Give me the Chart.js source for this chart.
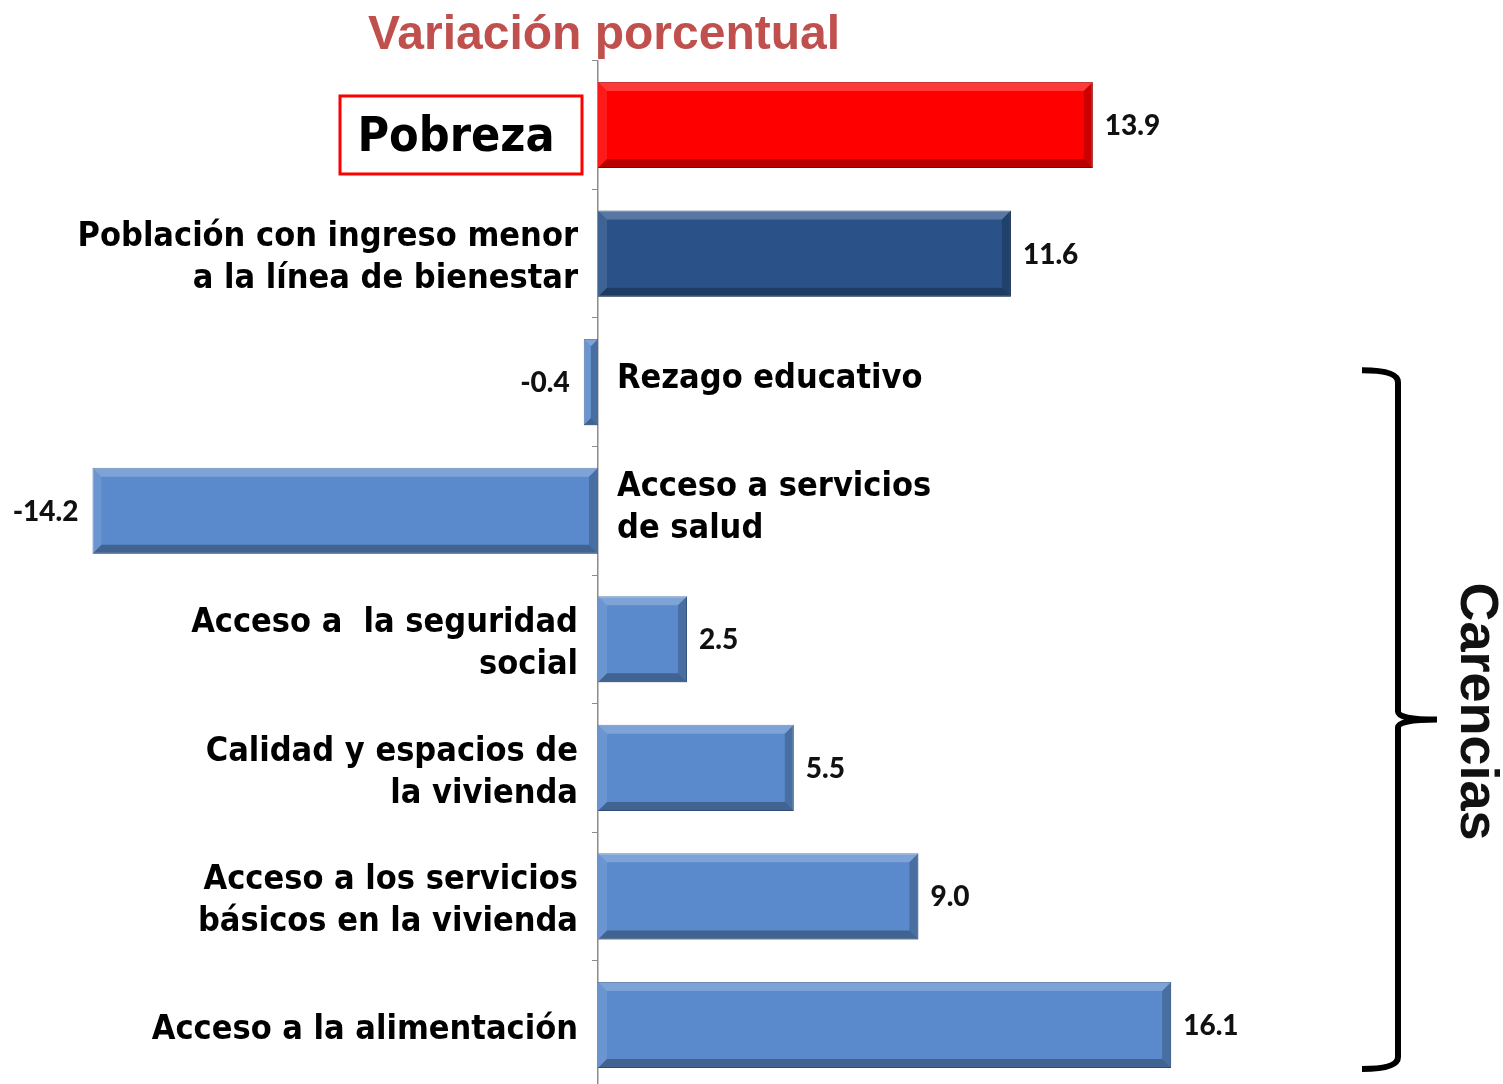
<!DOCTYPE html>
<html lang="es">
<head>
<meta charset="utf-8">
<title>Variación porcentual</title>
<script src="https://cdn.jsdelivr.net/npm/chart.js@4.4.1/dist/chart.umd.min.js"></script>
<style>
  html, body { margin: 0; padding: 0; background: #fff; overflow: hidden; }
  #wrap { position: relative; width: 1503px; height: 1092px; }
</style>
</head>
<body>
<div id="wrap"><canvas id="chart"></canvas></div>
<script>
const categories = [
  "Pobreza",
  "Población con ingreso menor a la línea de bienestar",
  "Rezago educativo",
  "Acceso a servicios de salud",
  "Acceso a  la seguridad social",
  "Calidad y espacios de la vivienda",
  "Acceso a los servicios básicos en la vivienda",
  "Acceso a la alimentación"
];
const labelLines = [
  ["Pobreza"],
  ["Población con ingreso menor", "a la línea de bienestar"],
  ["Rezago educativo"],
  ["Acceso a servicios", "de salud"],
  ["Acceso a  la seguridad", "social"],
  ["Calidad y espacios de", "la vivienda"],
  ["Acceso a los servicios", "básicos en la vivienda"],
  ["Acceso a la alimentación"]
];
const values = [13.9, 11.6, -0.4, -14.2, 2.5, 5.5, 9.0, 16.1];
const barColors = ["#ff0000", "#2a5289", "#5a8acb", "#5a8acb", "#5a8acb", "#5a8acb", "#5a8acb", "#5a8acb"];
const borderColors = ["#b80000", "#1d3b63", "#41699e", "#41699e", "#41699e", "#41699e", "#41699e", "#41699e"];
const title = "Variación porcentual";
const groupLabel = "Carencias";

const labelFont = 'bold 34px "DejaVu Sans Condensed", "DejaVu Sans", sans-serif';
const valueFont = '900 28px Lato, "Open Sans", sans-serif';

function face(ctx, pts, color) {
  ctx.beginPath();
  ctx.moveTo(pts[0][0], pts[0][1]);
  for (let i = 1; i < pts.length; i++) ctx.lineTo(pts[i][0], pts[i][1]);
  ctx.closePath();
  ctx.fillStyle = color;
  ctx.fill();
}

// light top / dark bottom edges, like the office "bevel" bars
const bevel = {
  id: "bevel",
  afterDatasetsDraw(chart) {
    const ctx = chart.ctx;
    ctx.save();
    chart.getDatasetMeta(0).data.forEach(bar => {
      const p = bar.getProps(["x", "y", "base", "height"], true);
      const l = Math.min(p.x, p.base), r = Math.max(p.x, p.base);
      const t = p.y - p.height / 2, b = p.y + p.height / 2;
      const s = Math.min(9, (r - l) / 2, (b - t) / 2);
      face(ctx, [[l, t], [r, t], [r - s, t + s], [l + s, t + s]], "rgba(255,255,255,0.22)");
      face(ctx, [[l, t], [l + s, t + s], [l + s, b - s], [l, b]], "rgba(255,255,255,0.10)");
      face(ctx, [[l, b], [r, b], [r - s, b - s], [l + s, b - s]], "rgba(0,0,0,0.28)");
      face(ctx, [[r, t], [r, b], [r - s, b - s], [r - s, t + s]], "rgba(0,0,0,0.20)");
    });
    ctx.restore();
  }
};

const annotations = {
  id: "annotations",
  afterDraw(chart) {
    const ctx = chart.ctx;
    const xs = chart.scales.x, ys = chart.scales.y;
    const zero = xs.getPixelForValue(0);
    ctx.save();

    // title
    ctx.font = 'bold 48px "Liberation Sans", Arial, sans-serif';
    ctx.fillStyle = "#c0504d";
    ctx.textAlign = "center";
    ctx.textBaseline = "middle";
    ctx.fillText(title, zero + 6, chart.chartArea.top - 25);

    // category labels
    values.forEach((v, i) => {
      const cy = ys.getPixelForValue(i);
      const lines = labelLines[i];
      ctx.fillStyle = "#000";
      if (i === 0) {
        ctx.font = 'bold 48px "DejaVu Sans Condensed", "DejaVu Sans", sans-serif';
        ctx.textAlign = "center";
        ctx.fillText(lines[0], 456, cy + 14);
        ctx.strokeStyle = "#ff0000";
        ctx.lineWidth = 3;
        ctx.strokeRect(340, cy - 29, 242, 78);
        return;
      }
      ctx.font = labelFont;
      let x, off;
      if (v >= 0) { ctx.textAlign = "right"; x = zero - 20; off = 5; }
      else { ctx.textAlign = "left"; x = zero + 19; off = -3; }
      const lh = 42;
      const y0 = cy + off - (lines.length - 1) * lh / 2;
      lines.forEach((ln, k) => ctx.fillText(ln, x, y0 + k * lh));
    });

    // value labels
    ctx.font = valueFont;
    ctx.fillStyle = "#111";
    values.forEach((v, i) => {
      const cy = ys.getPixelForValue(i);
      const px = xs.getPixelForValue(v);
      if (v >= 0) { ctx.textAlign = "left"; ctx.fillText(v.toFixed(1), px + 12, cy + 1); }
      else { ctx.textAlign = "right"; ctx.fillText(v.toFixed(1), px - 14, cy + 1); }
    });

    // brace for the carencias group
    const top = ys.getPixelForValue(2) - 12;
    const bot = ys.getPixelForValue(values.length - 1) + 44;
    const mid = (top + bot) / 2;
    const bx = 1398;
    ctx.strokeStyle = "#000";
    ctx.lineWidth = 6;
    ctx.beginPath();
    ctx.moveTo(1362, top);
    ctx.quadraticCurveTo(bx, top, bx, top + 12);
    ctx.lineTo(bx, mid - 8);
    ctx.quadraticCurveTo(bx, mid, 1437, mid);
    ctx.moveTo(1437, mid);
    ctx.quadraticCurveTo(bx, mid, bx, mid + 8);
    ctx.lineTo(bx, bot - 12);
    ctx.quadraticCurveTo(bx, bot, 1362, bot);
    ctx.stroke();

    ctx.translate(1476, mid - 8);
    ctx.rotate(Math.PI / 2);
    ctx.font = 'bold 54px "Liberation Sans", Arial, sans-serif';
    ctx.textAlign = "center";
    ctx.textBaseline = "middle";
    ctx.fillText(groupLabel, 0, 0);
    ctx.restore();
  }
};

new Chart(document.getElementById("chart"), {
  type: "bar",
  data: {
    labels: categories,
    datasets: [{
      data: values,
      backgroundColor: barColors,
      borderColor: borderColors,
      borderWidth: 1,
      barPercentage: 0.67,
      categoryPercentage: 1
    }]
  },
  options: {
    indexAxis: "y",
    responsive: true,
    maintainAspectRatio: false,
    animation: false,
    layout: { padding: { left: 10.6, right: 15, top: 60.7, bottom: 2.7 } },
    plugins: { legend: { display: false }, tooltip: { enabled: false } },
    scales: {
      x: { display: false, min: -16.5, max: 25 },
      y: {
        position: { x: 0 },
        ticks: { display: false },
        grid: { drawOnChartArea: false, tickLength: 5, color: "#8c8c8c" },
        border: { color: "#8c8c8c", width: 1.5 }
      }
    }
  },
  plugins: [bevel, annotations]
});
</script>
</body>
</html>
